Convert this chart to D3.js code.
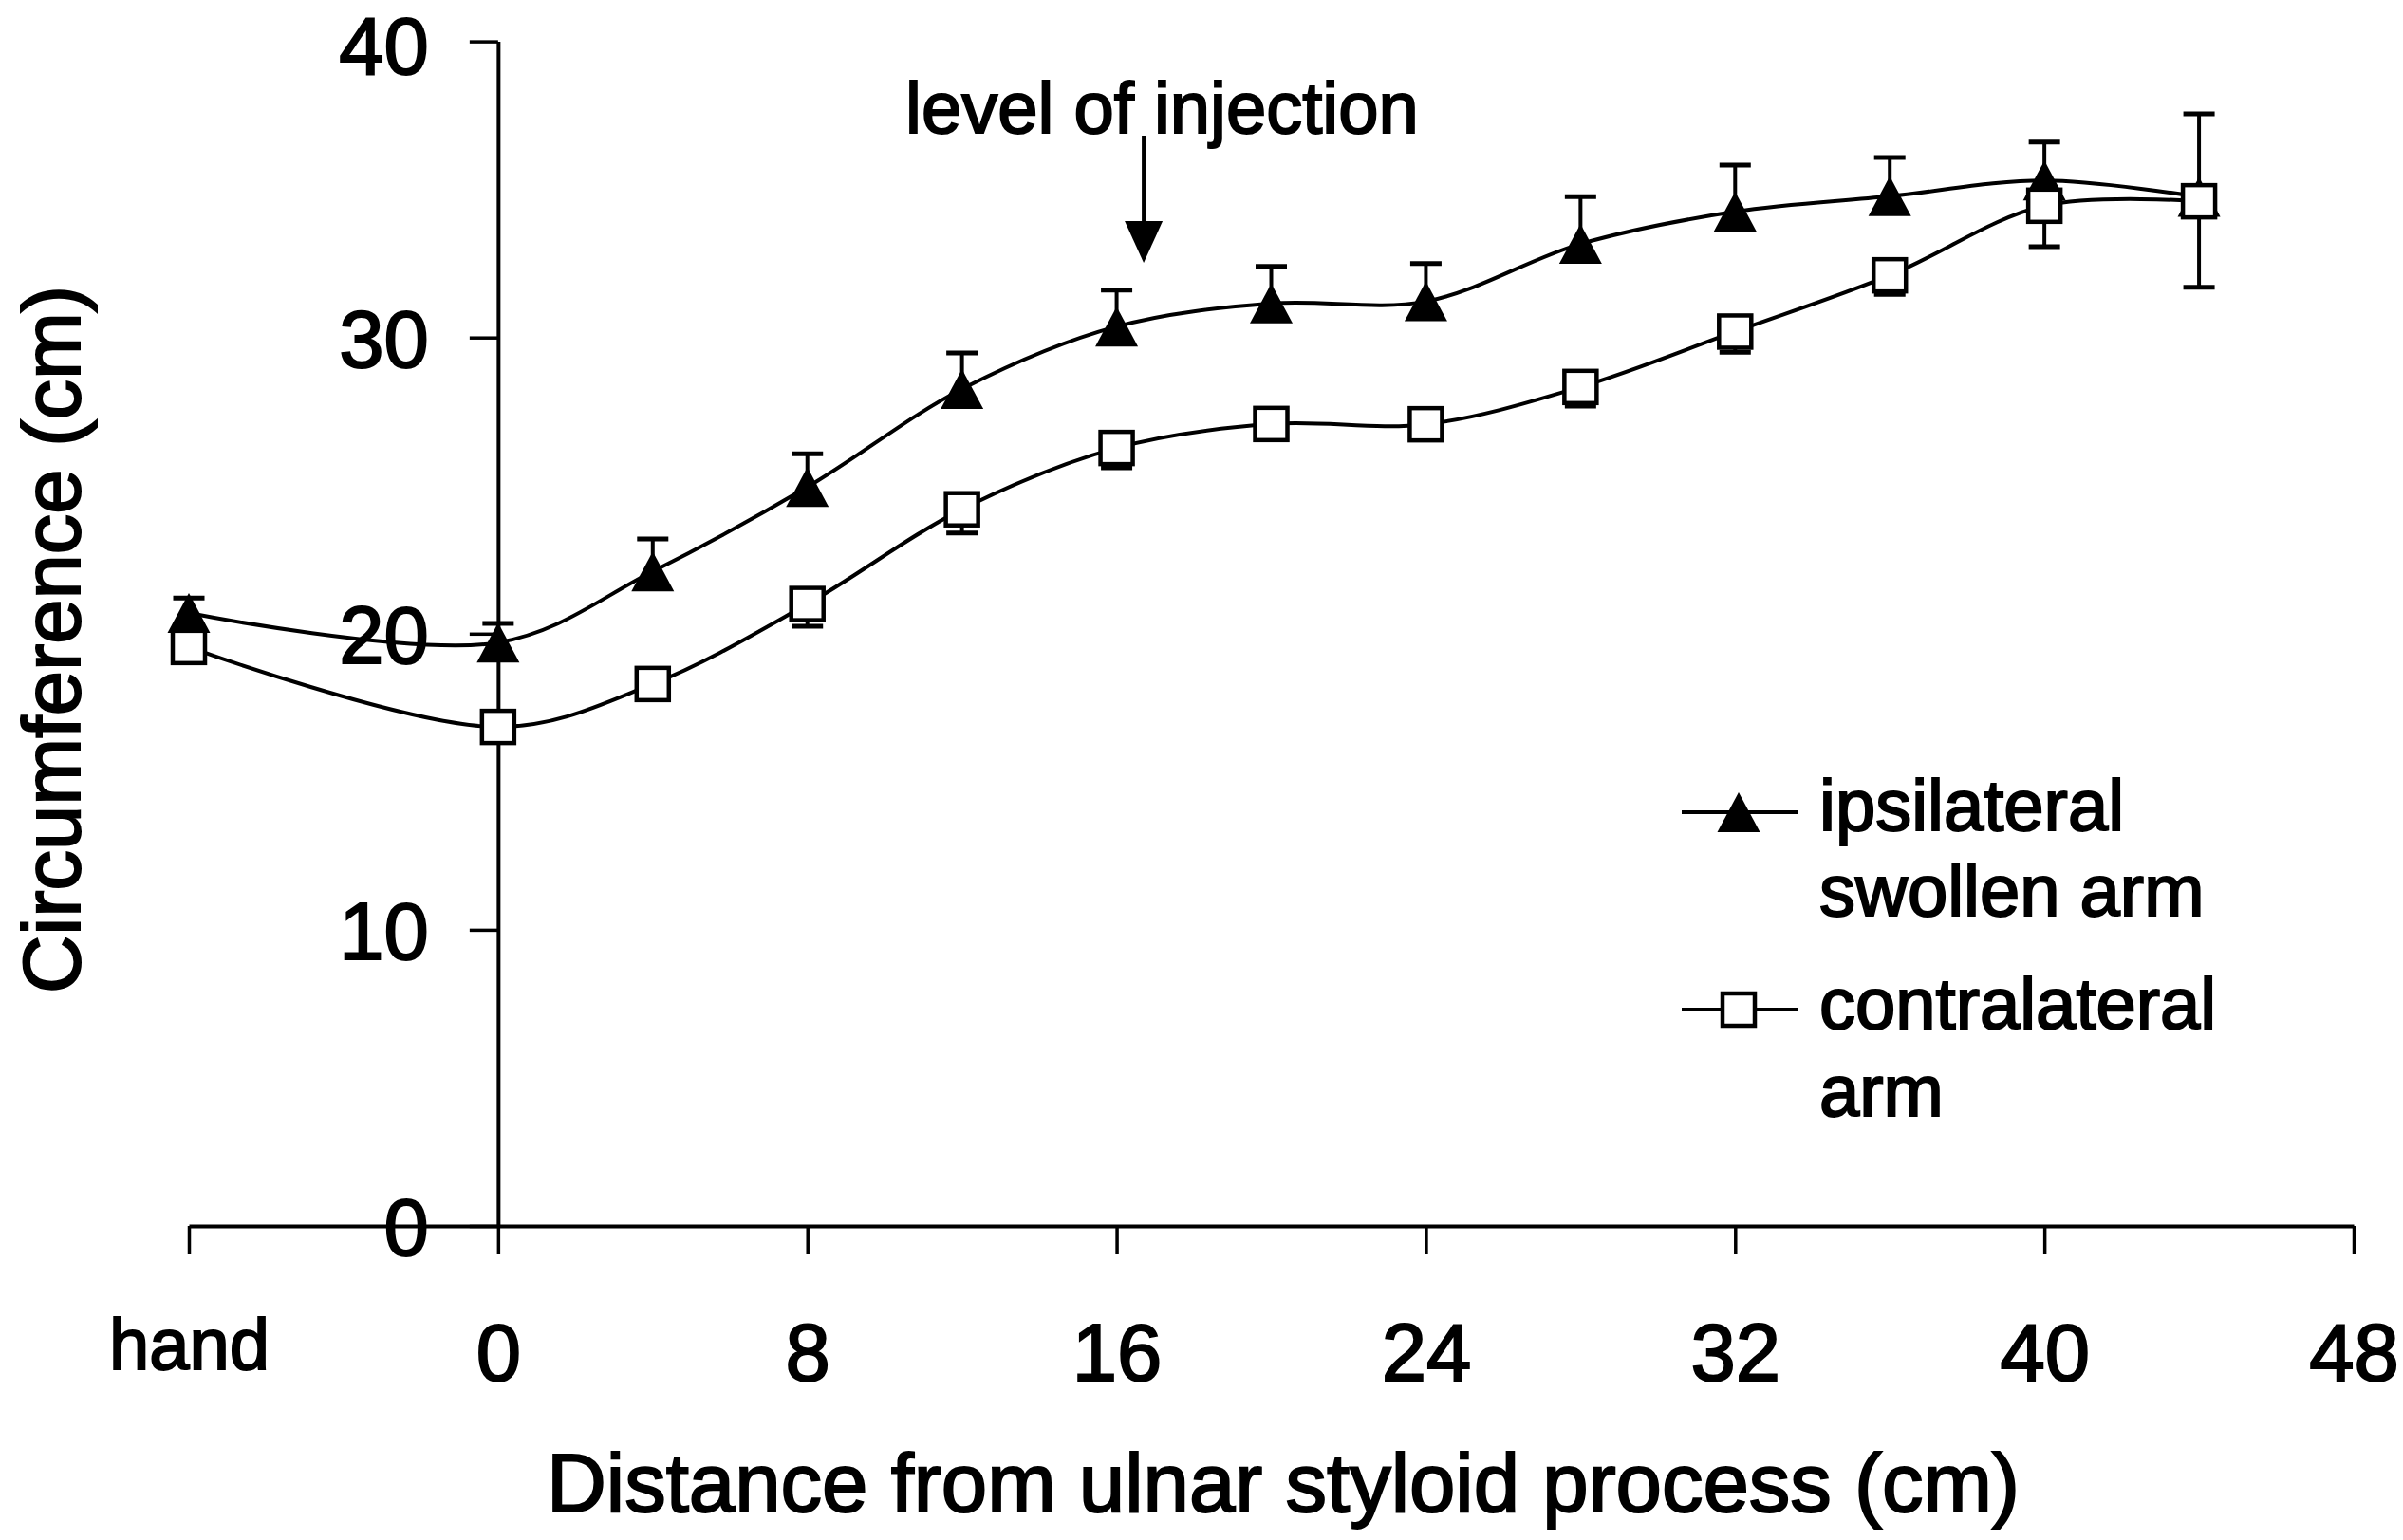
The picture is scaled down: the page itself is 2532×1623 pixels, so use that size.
<!DOCTYPE html>
<html><head><meta charset="utf-8">
<script src="https://cdn.jsdelivr.net/npm/d3@7"></script>
<style>
html,body{margin:0;padding:0;background:#fff;}
svg{display:block;}
text{font-family:"Liberation Sans",Arial,Helvetica,sans-serif;fill:#000;stroke:#000;stroke-width:2px;}
</style>
</head><body>
<svg id="chart" width="2532" height="1623"></svg>
<script>
// ---- data ----
const positions = [-8, 0, 4, 8, 12, 16, 20, 24, 28, 32, 36, 40, 44]; // -8 = "hand"
const ipsilateral = [20.7, 19.7, 22.1, 24.95, 28.26, 30.37, 31.15, 31.22, 33.16, 34.25, 34.77, 35.3, 34.75];
const ipsilateralErr = [0.5, 0.65, 1.1, 1.12, 1.22, 1.23, 1.25, 1.28, 1.6, 1.57, 1.31, 1.3, 2.8];
const contralateral = [19.55, 16.85, 18.3, 21.0, 24.2, 26.27, 27.08, 27.07, 28.33, 30.2, 32.1, 34.45, 34.6];
const contralateralErr = [0.4, 0.4, 0.4, 0.75, 0.8, 0.67, 0.5, 0.5, 0.65, 0.7, 0.64, 1.38, 2.9];
const xTickValues = [-8, 0, 8, 16, 24, 32, 40, 48];
const xTickLabels = ["hand", "0", "8", "16", "24", "32", "40", "48"];
const yTickValues = [0, 10, 20, 30, 40];
const seriesNames = ["ipsilateral", "swollen arm", "contralateral", "arm"];
const xTitle = "Distance from ulnar styloid process (cm)";
const yTitle = "Circumference (cm)";
const annotation = "level of injection";
const injectionLevel = 16.7;

// ---- layout ----
const svg = d3.select("#chart");
const x = d3.scaleLinear().domain([-8, 48]).range([199, 2480]);
const y = d3.scaleLinear().domain([0, 40]).range([1292, 43.6]);
const axisStroke = 4;

// x axis
const gx = svg.append("g").attr("transform", `translate(0,${y(0)})`)
  .call(d3.axisBottom(x).tickValues(xTickValues).tickSize(30).tickSizeOuter(0)
    .tickFormat((d, i) => xTickLabels[i]));
gx.select(".domain").attr("stroke", "#000").attr("stroke-width", axisStroke);
gx.selectAll(".tick line").attr("stroke", "#000").attr("stroke-width", 3.5);
gx.selectAll(".tick text").attr("dy", null).attr("fill", "#000")
  .attr("font-family", '"Liberation Sans",Arial,sans-serif')
  .attr("font-size", (d, i) => i === 0 ? 76 : 85)
  .attr("y", (d, i) => i === 0 ? 151 : 163);

// y axis
const gy = svg.append("g").attr("transform", `translate(${x(0)},0)`)
  .call(d3.axisLeft(y).tickValues(yTickValues).tickSize(30).tickSizeOuter(0).tickPadding(43)
    .tickFormat(d3.format("d")));
gy.select(".domain").attr("stroke", "#000").attr("stroke-width", axisStroke);
gy.selectAll(".tick line").attr("stroke", "#000").attr("stroke-width", 3.5);
gy.selectAll(".tick text").attr("fill", "#000")
  .attr("font-family", '"Liberation Sans",Arial,sans-serif')
  .attr("font-size", 85).attr("dy", d => d === 40 ? "0.40em" : "0.36em");

// axis titles
svg.append("text").attr("x", 1352).attr("y", 1593).attr("text-anchor", "middle")
  .attr("font-size", 87).text(xTitle);
svg.append("text").attr("transform", `translate(84,${674}) rotate(-90)`)
  .attr("text-anchor", "middle").attr("font-size", 85).text(yTitle);

// annotation
svg.append("text").attr("x", 954).attr("y", 140).attr("font-size", 76).text(annotation);
const ax = x(injectionLevel);
svg.append("line").attr("x1", ax).attr("x2", ax).attr("y1", 143).attr("y2", 236)
  .attr("stroke", "#000").attr("stroke-width", 4);
svg.append("path").attr("d", `M${ax - 20},233L${ax + 20},233L${ax},277Z`).attr("fill", "#000");

// series
const line = d3.line().x(d => x(d[0])).y(d => y(d[1])).curve(d3.curveCatmullRom.alpha(0.5));
const ipsiData = positions.map((p, i) => [p, ipsilateral[i], ipsilateralErr[i]]);
const contraData = positions.map((p, i) => [p, contralateral[i], contralateralErr[i]]);

const triPath = "M0,-21L22.5,21L-22.5,21Z";

function drawSeries(data, dir, marker) {
  const g = svg.append("g");
  g.append("path").datum(data).attr("d", line).attr("fill", "none")
    .attr("stroke", "#000").attr("stroke-width", 4);
  const eb = g.selectAll(".eb").data(data).enter().append("g");
  eb.append("line").attr("x1", d => x(d[0])).attr("x2", d => x(d[0]))
    .attr("y1", d => y(d[1])).attr("y2", d => y(d[1] + dir * d[2]))
    .attr("stroke", "#000").attr("stroke-width", 4);
  eb.append("line").attr("x1", d => x(d[0]) - 16.5).attr("x2", d => x(d[0]) + 16.5)
    .attr("y1", d => y(d[1] + dir * d[2])).attr("y2", d => y(d[1] + dir * d[2]))
    .attr("stroke", "#000").attr("stroke-width", 5);
  if (marker === "tri") {
    g.selectAll(".m").data(data).enter().append("path")
      .attr("transform", d => `translate(${x(d[0])},${y(d[1])})`)
      .attr("d", triPath).attr("fill", "#000");
  } else {
    g.selectAll(".m").data(data).enter().append("rect")
      .attr("x", d => x(d[0]) - 17).attr("y", d => y(d[1]) - 17)
      .attr("width", 34).attr("height", 34)
      .attr("fill", "#fff").attr("stroke", "#000").attr("stroke-width", 4.5);
  }
}
drawSeries(ipsiData, 1, "tri");
drawSeries(contraData, -1, "sq");

// legend
const lg = svg.append("g");
lg.append("line").attr("x1", 1772).attr("x2", 1894).attr("y1", 856).attr("y2", 856)
  .attr("stroke", "#000").attr("stroke-width", 4);
lg.append("path").attr("transform", "translate(1832,856)").attr("d", triPath).attr("fill", "#000");
lg.append("line").attr("x1", 1772).attr("x2", 1894).attr("y1", 1064).attr("y2", 1064)
  .attr("stroke", "#000").attr("stroke-width", 4);
lg.append("rect").attr("x", 1832 - 17).attr("y", 1064 - 17).attr("width", 34).attr("height", 34)
  .attr("fill", "#fff").attr("stroke", "#000").attr("stroke-width", 4.5);
const legendY = [875, 965, 1084, 1176];
lg.selectAll(".lt").data(seriesNames).enter().append("text")
  .attr("x", 1917).attr("y", (d, i) => legendY[i]).attr("font-size", 76).text(d => d);
</script>
</body></html>
